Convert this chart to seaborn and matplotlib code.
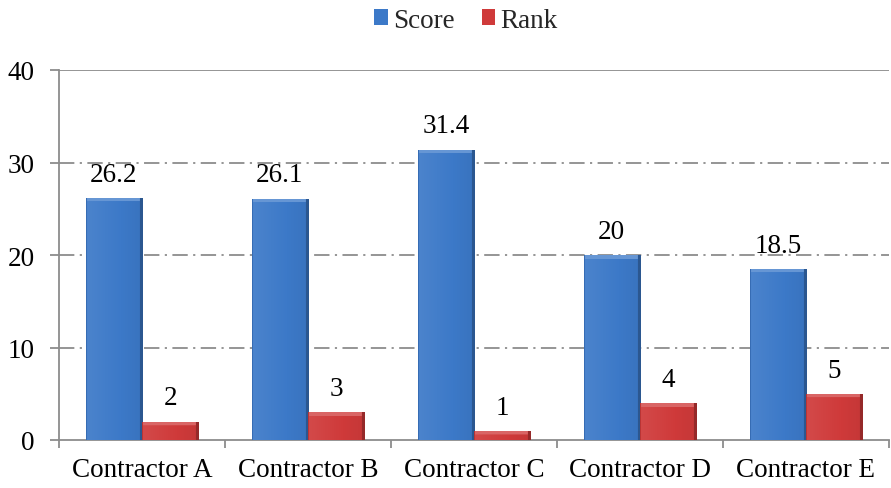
import numpy as np
import pandas as pd
import matplotlib
matplotlib.use("Agg")
import matplotlib.pyplot as plt
import matplotlib.colors as mcolors
import seaborn as sns

categories = ["Contractor A", "Contractor B", "Contractor C", "Contractor D", "Contractor E"]
score = [26.2, 26.1, 31.4, 20, 18.5]
rank = [2, 3, 1, 4, 5]
series = ["Score", "Rank"]
yticks = [0, 10, 20, 30, 40]

df = pd.DataFrame({
    "Contractor": categories * 2,
    "Series": ["Score"] * len(categories) + ["Rank"] * len(categories),
    "Value": score + rank,
})

sns.set_theme(style="white")
plt.rcParams["font.family"] = ["Liberation Serif", "DejaVu Serif"]

colors = {"Score": "#3C79C8", "Rank": "#CF3A3A"}
FS = 19.5

fig = plt.figure(figsize=(8.91, 4.89), dpi=100)
ax = fig.add_axes([59 / 891, 1 - 441 / 489, 830 / 891, 370 / 489])

sns.barplot(data=df, x="Contractor", y="Value", hue="Series", palette=colors,
            width=0.68, gap=0, saturation=1, ax=ax, legend=True, zorder=3,
            edgecolor="none", linewidth=0)

ax.set_ylim(0, 40)
ax.set_xlim(-0.5, len(categories) - 0.5)
ax.set_yticks(yticks)
ax.set_xlabel("")
ax.set_ylabel("")

# gridlines
for y in yticks[1:]:
    if y == 40:
        ax.axhline(y, color="#8C8C8C", lw=1.3, zorder=1)
    else:
        ax.axhline(y, color="#8C8C8C", lw=1.3, zorder=1,
                   linestyle=(0, (8.5, 3, 1.2, 3)))

for s in ["top", "right"]:
    ax.spines[s].set_visible(False)
for s in ["left", "bottom"]:
    ax.spines[s].set_color("#8C8C8C")
    ax.spines[s].set_linewidth(1.3)

ax.tick_params(axis="y", which="major", left=True, length=6.5, width=1.3,
               color="#8C8C8C", labelsize=FS, pad=11, labelcolor="black")
ax.tick_params(axis="x", which="major", bottom=False, labelsize=FS, pad=6,
               labelcolor="black")
ax.set_xticks(np.arange(-0.5, len(categories) + 0.5, 1), minor=True)
ax.tick_params(axis="x", which="minor", bottom=True, length=6, width=1.3,
               color="#8C8C8C")

# value labels
for cont in ax.containers:
    ax.bar_label(cont, labels=[f"{v:g}" for v in cont.datavalues],
                 padding=8, fontsize=FS, color="black")

# legend
leg = ax.legend(loc="center", bbox_to_anchor=(466 / 891, 1 - 21 / 489),
                bbox_transform=fig.transFigure, ncol=2,
                frameon=False, fontsize=19.5, handlelength=0.5, handleheight=0.5,
                handletextpad=0.2, columnspacing=1.0, borderaxespad=0)

# bevelled gradient fill clipped to each bar
fig.canvas.draw()
def shade(c, f):
    c = np.array(mcolors.to_rgb(c))
    if f > 0:
        return c + (1 - c) * f
    return c * (1 + f)

for cont, name in zip(ax.containers, series):
    base = colors[name]
    for p in cont.patches:
        bb = p.get_window_extent()
        w = max(int(round(bb.width)), 2)
        h = max(int(round(bb.height)), 2)
        img = np.zeros((h, w, 3))
        xs = np.linspace(0, 1, w)
        for i, t in enumerate(xs):
            img[:, i] = shade(base, 0.08 * (1 - t) - 0.05 * t)
        bev = min(4, h // 2)
        img[:bev, :] = shade(base, 0.22)
        img[:, -3:] = shade(base, -0.28)
        img[:, :1] = shade(base, -0.1)
        x0, y0 = p.get_x(), p.get_y()
        pw, ph = p.get_width(), p.get_height()
        im = ax.imshow(img, extent=[x0, x0 + pw, y0, y0 + ph], aspect="auto",
                       zorder=3.5, interpolation="bilinear")
        im.set_clip_path(p)
ax.set_xlim(-0.5, len(categories) - 0.5)
ax.set_ylim(0, 40)

fig.savefig("out.png", dpi=100)
